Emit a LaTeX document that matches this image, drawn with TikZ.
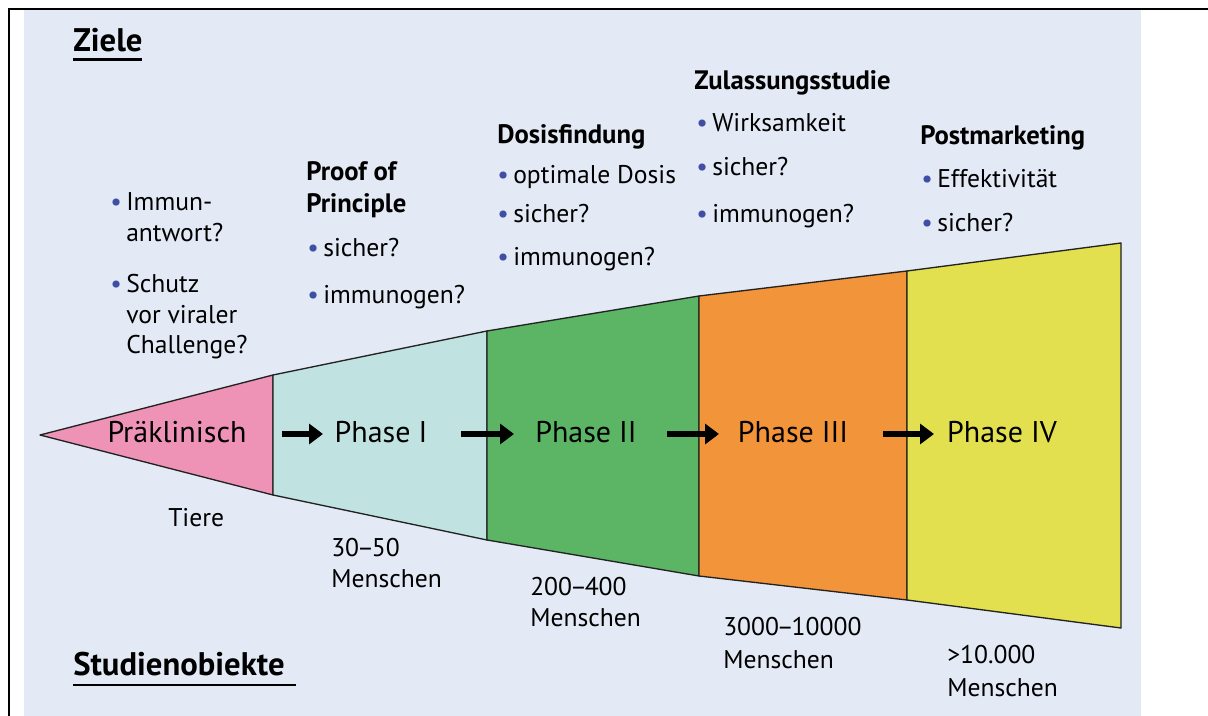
\documentclass[tikz,border=0pt]{standalone}
\usepackage{fontspec}
\setmainfont{PT Sans}
\usetikzlibrary{arrows.meta}
\definecolor{bgc}{HTML}{E3E9F5}
\definecolor{prec}{HTML}{EE93B6}
\definecolor{p1c}{HTML}{C0E3E1}
\definecolor{p2c}{HTML}{5BB565}
\definecolor{p3c}{HTML}{F2953A}
\definecolor{p4c}{HTML}{E3E04F}
\definecolor{bulc}{HTML}{3F4FA6}
\definecolor{edgec}{HTML}{222222}
\newcommand\bitem[1]{\makebox[12pt][l]{\textcolor{bulc}{\textbullet}}#1}
\newcommand\dsh{\kern-1.6pt–\kern-1.6pt}
\begin{document}
\begin{tikzpicture}[x=0.75pt,y=-0.75pt,
  txt/.style={anchor=base west,inner sep=0pt,font=\fontsize{19.2}{22}\selectfont},
  hd/.style={anchor=base west,inner sep=0pt,font=\fontsize{20}{24}\selectfont\bfseries},
  ttl/.style={anchor=base west,inner sep=0pt,font=\fontsize{24.5}{28}\selectfont\bfseries},
  phase/.style={anchor=base,inner sep=0pt,font=\fontsize{22.5}{27}\selectfont},
  seg/.style={draw=edgec,line width=1pt,line join=round},
  flow/.style={line width=4.5pt,-{Triangle[length=10.5pt,width=15pt]}},
  ul/.style={line width=2.2pt}]
\useasboundingbox (0,0) rectangle (1208,716);
\fill[bgc] (24,10) rectangle (1141,716);
\draw[line width=1.5pt] (9,716) -- (9,9.5) -- (1208,9.5);

% funnel
\coordinate (tip) at (40,435);
\coordinate (t1) at (273,375); \coordinate (b1) at (273,495);
\coordinate (t2) at (487,331); \coordinate (b2) at (487,540);
\coordinate (t3) at (699,296); \coordinate (b3) at (699,576);
\coordinate (t4) at (907,271); \coordinate (b4) at (907,600);
\coordinate (t5) at (1121,243); \coordinate (b5) at (1121,628);
\filldraw[seg,fill=prec] (tip) -- (t1) -- (b1) -- cycle;
\filldraw[seg,fill=p1c] (t1) -- (t2) -- (b2) -- (b1) -- cycle;
\filldraw[seg,fill=p2c] (t2) -- (t3) -- (b3) -- (b2) -- cycle;
\filldraw[seg,fill=p3c] (t3) -- (t4) -- (b4) -- (b3) -- cycle;
\filldraw[seg,fill=p4c] (t4) -- (t5) -- (b5) -- (b4) -- cycle;

% phase labels
\node[phase] (pre) at (177,443) {Präklinisch};
\node[phase] (ph1) at (381,443) {Phase I};
\node[phase] (ph2) at (586,443) {Phase II};
\node[phase] (ph3) at (793,443) {Phase III};
\node[phase] (ph4) at (1002,443) {Phase IV};

% arrows
\coordinate (a1s) at (282,434); \coordinate (a1e) at (323,434);
\coordinate (a2s) at (461,434); \coordinate (a2e) at (514,434);
\coordinate (a3s) at (667,434); \coordinate (a3e) at (719,434);
\coordinate (a4s) at (883,434); \coordinate (a4e) at (934,434);
\draw[flow] (a1s) -- (a1e);
\draw[flow] (a2s) -- (a2e);
\draw[flow] (a3s) -- (a3e);
\draw[flow] (a4s) -- (a4e);

% titles
\node[ttl] (ziele) at (73,52) {Ziele};
\draw[ul] (73,59.5) -- (142,59.5);
\node[ttl] (stud) at (73,676) {Studienobiekte};
\draw[ul] (73,685) -- (296,685);

% goals: preclinical
\node[txt] (g0a) at (110,211) {\bitem{Immun-}};
\node[txt] (g0b) at (126,242) {antwort?};
\node[txt] (g0c) at (110,293) {\bitem{Schutz}};
\node[txt] (g0d) at (126,324) {vor viraler};
\node[txt] (g0e) at (126,354) {Challenge?};

% goals: phase I
\node[hd] (h1a) at (306,181) {Proof of};
\node[hd] (h1b) at (306,213) {Principle};
\node[txt] (g1a) at (307,257) {\bitem{sicher?}};
\node[txt] (g1b) at (307,304) {\bitem{immunogen?}};

% goals: phase II
\node[hd] (h2) at (497,144) {Dosisfindung};
\node[txt] (g2a) at (497,184) {\bitem{optimale Dosis}};
\node[txt] (g2b) at (497,223) {\bitem{sicher?}};
\node[txt] (g2c) at (497,266) {\bitem{immunogen?}};

% goals: phase III
\node[hd] (h3) at (694,90) {Zulassungsstudie};
\node[txt] (g3a) at (696,132) {\bitem{Wirksamkeit}};
\node[txt] (g3b) at (696,176) {\bitem{sicher?}};
\node[txt] (g3c) at (696,223) {\bitem{immunogen?}};

% goals: phase IV
\node[hd] (h4) at (920,145) {Postmarketing};
\node[txt] (g4a) at (921,188) {\bitem{Effektivität}};
\node[txt] (g4b) at (921,232) {\bitem{sicher?}};

% subjects
\node[txt] (s0) at (168,527) {Tiere};
\node[txt] (s1a) at (331,557) {30\dsh 50};
\node[txt] (s1b) at (331,588) {Menschen};
\node[txt] (s2a) at (530,596) {200\dsh 400};
\node[txt] (s2b) at (530,627) {Menschen};
\node[txt] (s3a) at (723,636) {3000\dsh 10000};
\node[txt] (s3b) at (723,668) {Menschen};
\node[txt] (s4a) at (947,664) {>10.000};
\node[txt] (s4b) at (947,696) {Menschen};
\end{tikzpicture}
\end{document}
